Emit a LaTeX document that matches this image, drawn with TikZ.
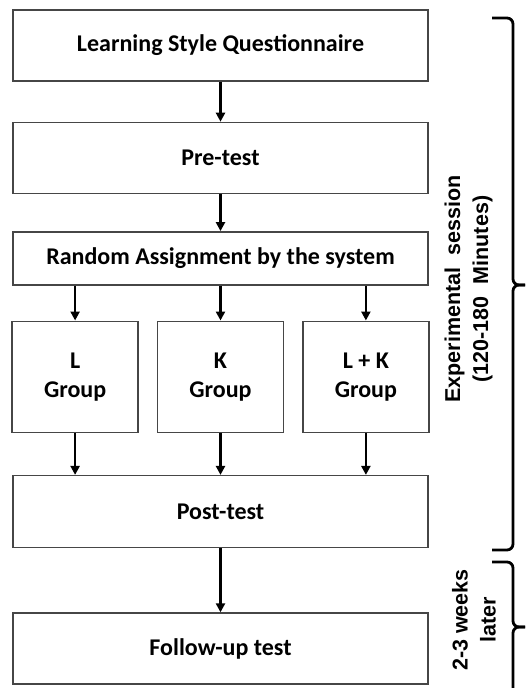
\documentclass[tikz,border=0pt]{standalone}
\usepackage{fontspec}
\setmainfont{Carlito}
\newfontfamily\arialfont{Liberation Sans}
\usetikzlibrary{arrows.meta, positioning}
\definecolor{boxLine}{RGB}{70, 70, 70}
\tikzset{
    % Box Styles
    stepMain/.style={
        rectangle,
        draw=boxLine,
        line width=1.4pt,
        minimum width=415pt,
        minimum height=71pt,
        inner sep=2pt,
        align=center,
        font=\fontsize{24}{29}\selectfont\bfseries
    },
    stepGroup/.style={stepMain, minimum width=126pt, minimum height=111pt},
    % Arrow & Label Styles
    flowArrow/.style={-{Triangle[width=9pt, length=9pt]}, line width=2.4pt},
    sideBrace/.style={rounded corners=6pt, line width=2.8pt},
    sideLabel/.style={rotate=90, align=center, font=\arialfont\fontsize{21.5}{28}\selectfont\bfseries}
}
\begin{document}
\begin{tikzpicture}[x=1pt, y=-1pt]

    \useasboundingbox (0,0) rectangle (525,688);

    % --- MAIN COLUMN ---
    \node (quest) [stepMain] at (220.5,45.5) {Learning Style Questionnaire};
    \node (pre) [stepMain, below=40pt of quest] {Pre-test};
    \node (assign) [stepMain, minimum height=53pt, below=37pt of pre] {Random Assignment by the system};

    % --- GROUPS ---
    \node (groupK) [stepGroup, below=35pt of assign] {K\\Group};
    \node (groupL) [stepGroup, left=18pt of groupK] {L\\Group};
    \node (groupLK) [stepGroup, right=18pt of groupK] {L + K\\Group};

    \node (post) [stepMain, minimum height=72pt, below=42pt of groupK] {Post-test};
    \node (follow) [stepMain, below=64pt of post] {Follow-up test};

    % --- Arrows ---
    \draw [flowArrow] (quest) -- (pre);
    \draw [flowArrow] (pre) -- (assign);
    \foreach \g in {groupL, groupK, groupLK} {
        \draw [flowArrow] (\g |- assign.south) -- (\g);
        \draw [flowArrow] (\g) -- (\g |- post.north);
    }
    \draw [flowArrow] (post) -- (follow);

    % --- Braces and side labels ---
    \draw [sideBrace] (492,18) -- (513,18) -- (513,285) -- (525,285);
    \draw [sideBrace] (525,285) -- (513,285) -- (513,550) -- (492,550);
    \node (expLabel) [sideLabel] at (468.5,289) {Experimental\ \ session\\(120-180\ \ Minutes)};

    \begin{scope}
        \clip (0,0) rectangle (525,688);
        \draw [sideBrace] (492,562) -- (513,562) -- (513,627) -- (525,627);
        \draw [sideBrace] (525,627) -- (513,627) -- (513,700);
    \end{scope}
    \node (laterLabel) [sideLabel] at (474,620) {2-3 weeks\\later};

\end{tikzpicture}
\end{document}
